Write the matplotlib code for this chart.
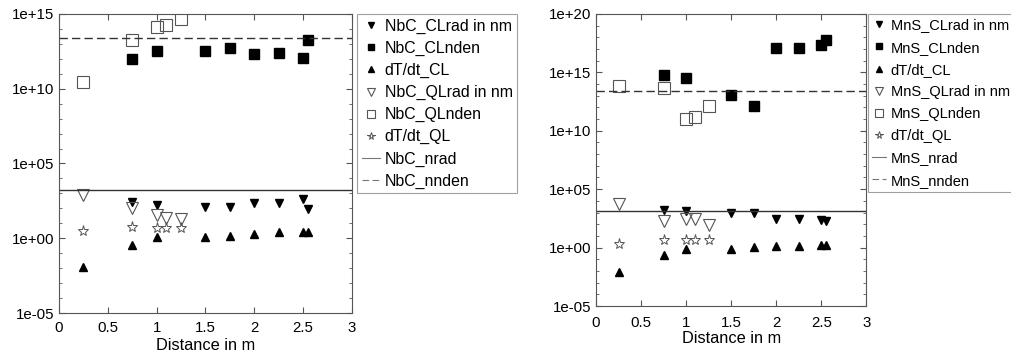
import matplotlib
matplotlib.use("Agg")
import matplotlib.pyplot as plt
import numpy as np
from matplotlib.ticker import FixedLocator, NullFormatter

plt.rcParams['font.family'] = ['Liberation Sans', 'DejaVu Sans']
plt.rcParams['font.size'] = 10

# ---------------- data (log10 of values) ----------------
x_cl = [0.75, 1.0, 1.5, 1.75, 2.0, 2.25, 2.5, 2.55]
x_cl_dt = [0.25, 0.75, 1.0, 1.5, 1.75, 2.0, 2.25, 2.5, 2.55]
x_ql = [0.25, 0.75, 1.0, 1.1, 1.25]

# Left panel: NbC
nbc_clrad = [2.45, 2.22, 2.11, 2.11, 2.33, 2.33, 2.62, 1.95]
nbc_clnden = [12.0, 12.55, 12.55, 12.7, 12.3, 12.37, 12.08, 13.25]
nbc_dt_cl = [-1.93, -0.44, 0.07, 0.07, 0.16, 0.29, 0.40, 0.44, 0.44]
nbc_qlrad = [2.89, 2.0, 1.56, 1.33, 1.29]
nbc_qlnden = [10.47, 13.24, 14.13, 14.24, 14.64]
nbc_dt_ql = [0.49, 0.73, 0.71, 0.71, 0.67]
nbc_nrad = 3.22
nbc_nnden = 13.36

# Right panel: MnS
mns_clrad = [3.22, 3.16, 2.99, 2.93, 2.42, 2.42, 2.36, 2.30]
mns_clnden = [14.75, 14.52, 13.04, 12.12, 17.06, 17.12, 17.35, 17.77]
mns_dt_cl = [-2.06, -0.65, -0.10, -0.09, 0.03, 0.12, 0.17, 0.26, 0.26]
mns_qlrad = [3.71, 2.30, 2.44, 2.42, 1.97]
mns_qlnden = [13.81, 13.64, 11.04, 11.21, 12.10]
mns_dt_ql = [0.34, 0.62, 0.62, 0.62, 0.62]
mns_nrad = 3.11
mns_nnden = 13.41

xticks = [0, 0.5, 1, 1.5, 2, 2.5, 3]
xticklabels = ['0', '0.5', '1', '1.5', '2', '2.5', '3']


def p(v):
    return 10.0 ** np.asarray(v, dtype=float)


fig = plt.figure(figsize=(10.12, 3.55), dpi=100)

ax1 = fig.add_axes([0.0583, 0.118, 0.2895, 0.843])
ax2 = fig.add_axes([0.589, 0.138, 0.267, 0.823])

spine_c = '#555555'
open_c = '#555555'


def draw(ax, name, clrad, clnden, dtcl, qlrad, qlnden, dtql, nrad, nnden, ymin, ymax, yticks,
         leg_x, leg_fs, hlen, lspace, xpad, lpad):
    h = []
    h += ax.plot(x_cl, p(clrad), linestyle='none', marker='v', ms=6, color='black',
                 label=f'{name}_CLrad in nm')
    h += ax.plot(x_cl, p(clnden), linestyle='none', marker='s', ms=6.5, color='black',
                 label=f'{name}_CLnden')
    h += ax.plot(x_cl_dt, p(dtcl), linestyle='none', marker='^', ms=6, color='black',
                 label='dT/dt_CL')
    h += ax.plot(x_ql, p(qlrad), linestyle='none', marker='v', ms=8, mfc='none',
                 mec=open_c, mew=0.8, label=f'{name}_QLrad in nm')
    h += ax.plot(x_ql, p(qlnden), linestyle='none', marker='s', ms=8.5, mfc='none',
                 mec=open_c, mew=0.8, label=f'{name}_QLnden')
    h += ax.plot(x_ql, p(dtql), linestyle='none', marker='*', ms=8, mfc='none',
                 mec=open_c, mew=0.7, label='dT/dt_QL')
    h.append(ax.axhline(p(nrad), color='#333333', lw=1.0, label=f'{name}_nrad'))
    h.append(ax.axhline(p(nnden), color='#333333', lw=1.0, ls=(0, (6, 3)),
                        label=f'{name}_nnden'))
    ax.set_yscale('log')
    ax.set_xlim(0, 3)
    ax.set_ylim(p(ymin), p(ymax))
    ax.yaxis.set_major_locator(FixedLocator(p(yticks)))
    ax.yaxis.set_minor_locator(FixedLocator(p(np.arange(ymin, ymax + 1))))
    ax.yaxis.set_minor_formatter(NullFormatter())
    ax.set_yticklabels([f'1e{t:+03d}' for t in yticks])
    ax.set_xticks(xticks)
    ax.set_xticklabels(xticklabels)
    ax.tick_params(which='both', direction='in', top=True, right=True, color=spine_c,
                   labelsize=10.8)
    ax.tick_params(axis='x', pad=xpad)
    ax.tick_params(which='major', length=4)
    ax.tick_params(which='minor', length=2)
    for s in ax.spines.values():
        s.set_color(spine_c)
        s.set_linewidth(0.8)
    ax.set_xlabel('Distance in m', fontsize=11.8, labelpad=lpad)
    leg = ax.legend(handles=h, loc='upper left', bbox_to_anchor=(leg_x, 0.9606),
                    bbox_transform=fig.transFigure, borderaxespad=0, fontsize=leg_fs,
                    frameon=True, fancybox=False, edgecolor='#888888', handlelength=hlen,
                    handletextpad=0.3, borderpad=0.3, labelspacing=lspace, markerscale=0.7)
    leg.get_frame().set_linewidth(0.8)
    for ln in leg.get_lines()[-2:]:
        ln.set_color('#777777')
        ln.set_linewidth(0.8)
    return leg


draw(ax1, 'NbC', nbc_clrad, nbc_clnden, nbc_dt_cl, nbc_qlrad, nbc_qlnden, nbc_dt_ql,
     nbc_nrad, nbc_nnden, -5, 15, [-5, 0, 5, 10, 15], 0.3528, 11.4, 1.15, 0.44, 6, 2)
draw(ax2, 'MnS', mns_clrad, mns_clnden, mns_dt_cl, mns_qlrad, mns_qlnden, mns_dt_ql,
     mns_nrad, mns_nnden, -5, 20, [-5, 0, 5, 10, 15, 20], 0.8577, 10.5, 0.95, 0.56, 7, 1)

fig.savefig('out.png', dpi=100)
